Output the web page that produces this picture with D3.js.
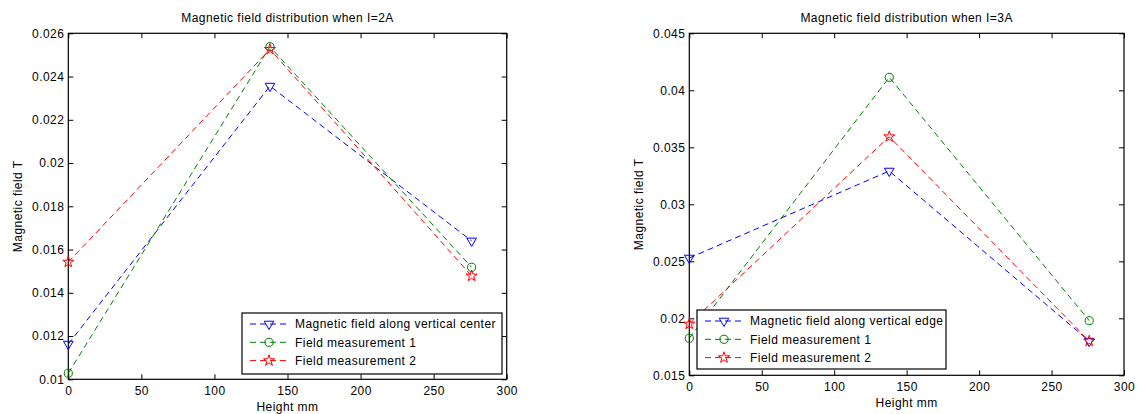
<!DOCTYPE html>
<html>
<head>
<meta charset="utf-8">
<script src="https://cdn.jsdelivr.net/npm/d3@7"></script>
<style>
  body { margin: 0; background: #fff; }
  text { font-family: Arial, "Liberation Sans", sans-serif; fill: #000; letter-spacing: 0.45px; }
</style>
</head>
<body>
<div id="chart"></div>
<script>
// data
const heights = [0, 138, 276];
const xTicks = [0, 50, 100, 150, 200, 250, 300];

const leftCenter = [0.01163, 0.02356, 0.01640];
const leftMeas1 = [0.01028, 0.02538, 0.01518];
const leftMeas2 = [0.01542, 0.02526, 0.01478];
const leftYTicks = [0.01, 0.012, 0.014, 0.016, 0.018, 0.02, 0.022, 0.024, 0.026];

const rightEdge = [0.02529, 0.03292, 0.01800];
const rightMeas1 = [0.01825, 0.04114, 0.01979];
const rightMeas2 = [0.01950, 0.03593, 0.01800];
const rightYTicks = [0.015, 0.02, 0.025, 0.03, 0.035, 0.04, 0.045];

const svg = d3.select("#chart")
  .append("svg")
    .attr("width", 1138)
    .attr("height", 414);

const markers = {
  tri: d3.symbol().type(d3.symbolTriangle).size(40),
  circ: d3.symbol().type(d3.symbolCircle).size(52),
  star: d3.symbol().type(d3.symbolStar).size(38)
};

function drawChart(opts) {
  const x = d3.scaleLinear().domain([0, 300]).range([opts.left, opts.right]);
  const y = d3.scaleLinear().domain(opts.yDomain).range([opts.bottom, opts.top]);
  const g = svg.append("g");

  // title
  g.append("text")
    .attr("x", (opts.left + opts.right) / 2)
    .attr("y", 21.5)
    .attr("text-anchor", "middle")
    .style("font-size", "12px")
    .text(opts.title);

  // axes (ticks inside, box style)
  g.append("g")
    .attr("transform", `translate(0,${opts.bottom})`)
    .call(d3.axisBottom(x).tickValues(xTicks).tickSizeInner(-5).tickSizeOuter(0).tickPadding(7))
    .call(a => a.selectAll("text").style("font-size", "12px"));
  g.append("g")
    .attr("transform", `translate(0,${opts.top})`)
    .call(d3.axisTop(x).tickValues(xTicks).tickSizeInner(-5).tickSizeOuter(0).tickFormat(""));
  g.append("g")
    .attr("transform", `translate(${opts.left},0)`)
    .call(d3.axisLeft(y).tickValues(opts.yTicks).tickSizeInner(-5).tickSizeOuter(0).tickPadding(4)
      .tickFormat(d => String(+d.toFixed(4))))
    .call(a => a.selectAll("text").style("font-size", "12px"));
  g.append("g")
    .attr("transform", `translate(${opts.right},0)`)
    .call(d3.axisRight(y).tickValues(opts.yTicks).tickSizeInner(-5).tickSizeOuter(0).tickFormat(""));
  g.selectAll(".domain").remove();
  g.selectAll(".tick line").attr("stroke", "#000");
  g.append("rect")
    .attr("x", opts.left).attr("y", opts.top)
    .attr("width", opts.right - opts.left).attr("height", opts.bottom - opts.top)
    .attr("fill", "none").attr("stroke", "#000").attr("stroke-width", 1.2);

  // labels
  g.append("text")
    .attr("x", (opts.left + opts.right) / 2)
    .attr("y", opts.bottom + 31.2)
    .attr("text-anchor", "middle")
    .style("font-size", "12px")
    .text("Height mm");
  g.append("text")
    .attr("transform", `translate(${opts.left - 46.5},${(opts.top + opts.bottom) / 2}) rotate(-90)`)
    .attr("text-anchor", "middle")
    .style("font-size", "12px")
    .text("Magnetic field T");

  const line = d3.line().x((d, i) => x(heights[i])).y(d => y(d));

  opts.series.forEach(s => {
    g.append("path")
      .attr("d", line(s.values))
      .attr("fill", "none")
      .attr("stroke", s.color)
      .attr("stroke-width", 1)
      .attr("stroke-dasharray", "6,4");
    g.selectAll(null)
      .data(s.values)
      .enter()
      .append("path")
        .attr("d", markers[s.marker])
        .attr("transform", (d, i) => `translate(${x(heights[i])},${y(d)})${s.marker === "tri" ? " rotate(180)" : ""}`)
        .attr("fill", "none")
        .attr("stroke", s.color)
        .attr("stroke-width", 1);
  });

  // legend
  const lg = g.append("g");
  lg.append("rect")
    .attr("x", opts.legend.x).attr("y", opts.legend.y)
    .attr("width", opts.legend.w).attr("height", opts.legend.h)
    .attr("fill", "#fff").attr("stroke", "#000").attr("stroke-width", 1.2);
  opts.series.forEach((s, i) => {
    const ly = opts.legend.y + 11 + i * 18.3;
    const lx = opts.legend.x + 8;
    lg.append("line")
      .attr("x1", lx).attr("x2", lx + 38)
      .attr("y1", ly).attr("y2", ly)
      .attr("stroke", s.color)
      .attr("stroke-dasharray", "6,4");
    lg.append("path")
      .attr("d", markers[s.marker])
      .attr("transform", `translate(${lx + 19},${ly})${s.marker === "tri" ? " rotate(180)" : ""}`)
      .attr("fill", "none")
      .attr("stroke", s.color);
    lg.append("text")
      .attr("x", lx + 45)
      .attr("y", ly)
      .attr("dy", "0.35em")
      .style("font-size", "12px")
      .text(s.name);
  });
}

drawChart({
  title: "Magnetic field distribution when I=2A",
  left: 68.3, right: 506.7, top: 33.3, bottom: 379.3,
  yDomain: [0.01, 0.026], yTicks: leftYTicks,
  legend: {x: 242, y: 313, w: 260, h: 61},
  series: [
    {name: "Magnetic field along vertical center", values: leftCenter, color: "#0000ff", marker: "tri"},
    {name: "Field measurement 1", values: leftMeas1, color: "#008000", marker: "circ"},
    {name: "Field measurement 2", values: leftMeas2, color: "#ff0000", marker: "star"}
  ]
});

drawChart({
  title: "Magnetic field distribution when I=3A",
  left: 689.3, right: 1124, top: 33.3, bottom: 375.3,
  yDomain: [0.015, 0.045], yTicks: rightYTicks,
  legend: {x: 697, y: 310, w: 249, h: 59},
  series: [
    {name: "Magnetic field along vertical edge", values: rightEdge, color: "#0000ff", marker: "tri"},
    {name: "Field measurement 1", values: rightMeas1, color: "#008000", marker: "circ"},
    {name: "Field measurement 2", values: rightMeas2, color: "#ff0000", marker: "star"}
  ]
});
</script>
</body>
</html>
